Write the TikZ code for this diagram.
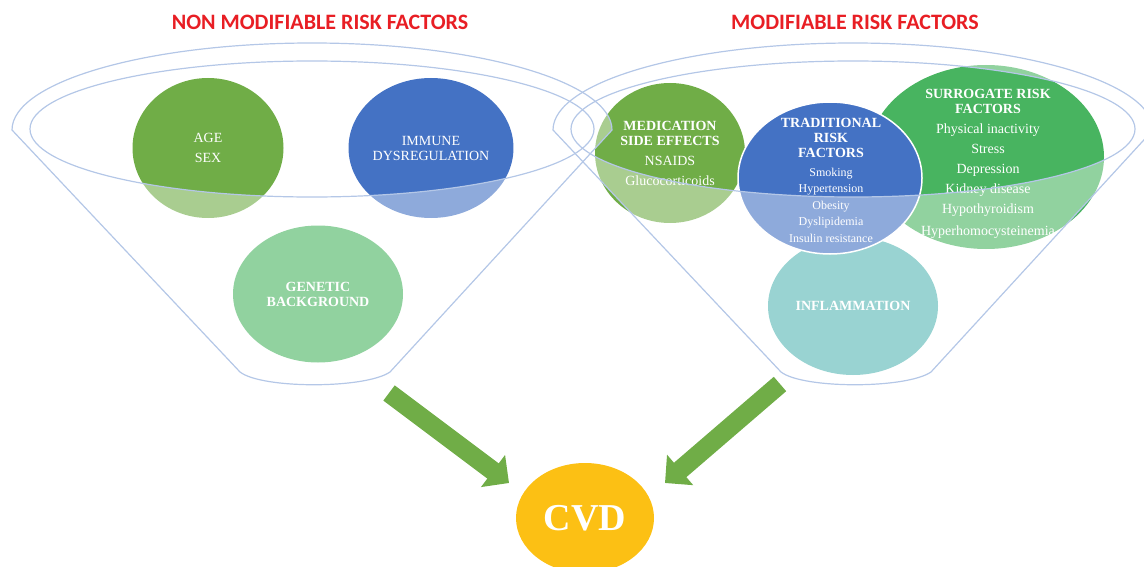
\documentclass[tikz,border=0pt]{standalone}
\usepackage{fontspec}
\setmainfont{Liberation Serif}
\newfontfamily\headfont{Carlito}
\usetikzlibrary{shapes.geometric,arrows.meta}

\definecolor{titlered}{RGB}{232,30,36}
\definecolor{agegreen}{RGB}{112,173,71}
\definecolor{immuneblue}{RGB}{68,114,196}
\definecolor{surrgreen}{RGB}{72,180,96}
\definecolor{inflteal}{RGB}{85,183,180}
\definecolor{cvdgold}{RGB}{252,192,20}
\definecolor{funnelblue}{RGB}{180,199,231}

\tikzstyle{title}=[text=titlered,font=\headfont\bfseries\fontsize{22}{26}\selectfont]
\tikzstyle{bubble}=[ellipse,inner sep=0pt,text=white,align=center,font=\fontsize{14}{15}\selectfont]
\tikzstyle{bubbletext}=[text=white,align=center,inner sep=0pt,font=\fontsize{14}{15}\selectfont]
\tikzstyle{funnelline}=[draw=funnelblue,line width=1.2pt]
\tikzstyle{bigarrow}=[draw=agegreen,line width=19pt,-{Triangle[width=39pt,length=20pt,fill=agegreen]}]

% rim + cone of one funnel, left one at x=312
\newcommand{\funnelrim}{(12,130) arc[start angle=180,end angle=360,x radius=300,y radius=87] -- (390,372) .. controls (365,389) and (262,389) .. (240,372) -- cycle}

\begin{document}
\begin{tikzpicture}[x=1pt,y=-1pt]
  \useasboundingbox (0,0) rectangle (1144,567);

  \node[title] (nonmodtitle) at (320,22.5) {NON MODIFIABLE RISK FACTORS};
  \node[title] (modtitle)    at (855,22.5) {MODIFIABLE RISK FACTORS};

  % non modifiable
  \node[bubble,fill=agegreen,minimum width=151pt,minimum height=140pt] (age) at (208,148) {AGE\\[5pt]SEX};
  \node[bubble,fill=immuneblue,minimum width=147pt,minimum height=140pt] (immune) at (431,148) {IMMUNE\\DYSREGULATION};
  \node[bubble,fill=surrgreen,minimum width=170pt,minimum height=137pt] (genetic) at (318,294) {\textbf{GENETIC}\\\textbf{BACKGROUND}};

  % modifiable
  \node[bubble,fill=agegreen,minimum width=150pt,minimum height=140pt] (medication) at (670,153)
      {\textbf{MEDICATION}\\\textbf{SIDE EFFECTS}\\[5pt]NSAIDS\\[5pt]Glucocorticoids};
  \node[bubble,fill=surrgreen,minimum width=236pt,minimum height=184pt] (surrogate) at (986,157) {};
  \node[bubbletext] (surrogatetxt) at (988,164)
      {\textbf{SURROGATE RISK}\\\textbf{FACTORS}\\[5pt]Physical inactivity\\[5pt]Stress\\[5pt]Depression\\[5pt]Kidney disease\\[5pt]Hypothyroidism\\[7pt]Hyperhomocysteinemia};
  \node[bubble,fill=inflteal,minimum width=170pt,minimum height=138pt] (inflammation) at (853,306) {\textbf{INFLAMMATION}};
  \node[bubble,fill=immuneblue,draw=white,line width=1.5pt,minimum width=184pt,minimum height=152pt] (traditional) at (830,178) {};
  \node[bubbletext] (traditionaltxt) at (831,180)
      {\textbf{TRADITIONAL}\\\textbf{RISK}\\\textbf{FACTORS}\\[4pt]{\fontsize{12}{15}\selectfont Smoking}\\[1.5pt]{\fontsize{12}{15}\selectfont Hypertension}\\[1.5pt]{\fontsize{12}{15}\selectfont Obesity}\\[1.5pt]{\fontsize{12}{15}\selectfont Dyslipidemia}\\[1.5pt]{\fontsize{12}{15}\selectfont Insulin resistance}};

  % funnel body in front of the bubbles
  \fill[white,fill opacity=0.4,even odd rule] \funnelrim (312,129) ellipse [x radius=282,y radius=68];
  \begin{scope}[xshift=541pt]
    \fill[white,fill opacity=0.4,even odd rule] \funnelrim (312,129) ellipse [x radius=282,y radius=68];
  \end{scope}

  \draw[funnelline] \funnelrim;
  \draw[funnelline] (312,129) ellipse [x radius=282,y radius=68];
  \begin{scope}[xshift=541pt]
    \draw[funnelline] \funnelrim;
    \draw[funnelline] (312,129) ellipse [x radius=282,y radius=68];
  \end{scope}

  % into CVD
  \node[bubble,fill=cvdgold,minimum width=138pt,minimum height=110pt,font=\bfseries\fontsize{38}{40}\selectfont] (cvd) at (585,518) {CVD};
  \coordinate (lefttail)  at (389,393);
  \coordinate (lefttip)   at (509,483);
  \coordinate (righttail) at (780,384);
  \coordinate (righttip)  at (665,483);
  \draw[bigarrow] (lefttail) -- (lefttip);
  \draw[bigarrow] (righttail) -- (righttip);
\end{tikzpicture}
\end{document}
